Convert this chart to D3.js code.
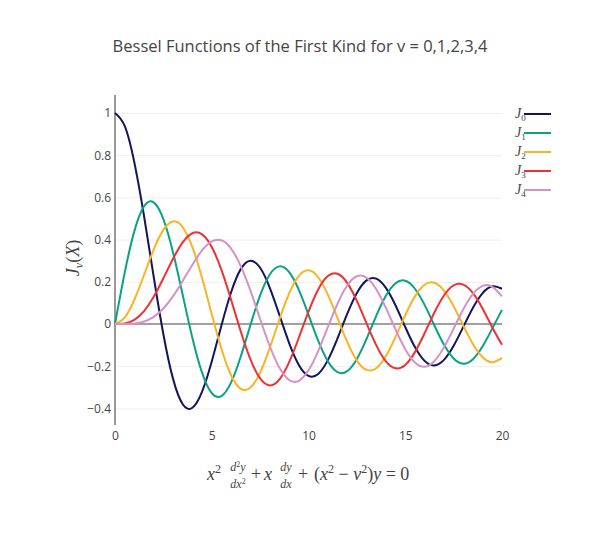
<!DOCTYPE html>
<html>
<head>
<meta charset="utf-8">
<script src="https://cdn.jsdelivr.net/npm/d3@7.9.0/dist/d3.min.js"></script>
<style>
  body { margin: 0; background: #fff; }
  svg { font-family: "Open Sans", sans-serif; }
  .math { font-family: "Liberation Serif", serif; }
</style>
</head>
<body>
<div id="chart"></div>
<script>
// x sample positions, every 0.5
const xValues = [0, 0.5, 1, 1.5, 2, 2.5, 3, 3.5, 4, 4.5, 5, 5.5, 6, 6.5, 7, 7.5, 8, 8.5, 9, 9.5,
    10, 10.5, 11, 11.5, 12, 12.5, 13, 13.5, 14, 14.5, 15, 15.5, 16, 16.5, 17, 17.5, 18, 18.5, 19, 19.5, 20];

const j0 = [1.0, 0.9385, 0.7652, 0.5118, 0.2239, -0.0484, -0.2601, -0.3801, -0.3971, -0.3205,
    -0.1776, -0.0068, 0.1506, 0.2601, 0.3001, 0.2663, 0.1717, 0.0419, -0.0903, -0.1939,
    -0.2459, -0.2366, -0.1712, -0.0677, 0.0477, 0.1469, 0.2069, 0.2151, 0.1711, 0.0876,
    -0.0142, -0.1093, -0.1749, -0.1964, -0.1699, -0.1031, -0.0134, 0.0773, 0.1466, 0.1789, 0.1670];
const j1 = [0, 0.2423, 0.4401, 0.5579, 0.5767, 0.4971, 0.3391, 0.1374, -0.0660, -0.2311,
    -0.3276, -0.3414, -0.2767, -0.1538, -0.0047, 0.1352, 0.2346, 0.2731, 0.2453, 0.1613,
    0.0435, -0.0789, -0.1768, -0.2282, -0.2234, -0.1654, -0.0703, 0.0380, 0.1334, 0.1933,
    0.2051, 0.1671, 0.0904, -0.0058, -0.0977, -0.1634, -0.1880, -0.1666, -0.1057, -0.0209, 0.0668];
const j2 = [0, 0.0306, 0.1150, 0.2321, 0.3528, 0.4461, 0.4861, 0.4586, 0.3641, 0.2178,
    0.0466, -0.1173, -0.2429, -0.3074, -0.3014, -0.2302, -0.1130, 0.0224, 0.1448, 0.2279,
    0.2546, 0.2216, 0.1390, 0.0280, -0.0849, -0.1734, -0.2177, -0.2095, -0.1520, -0.0609,
    0.0416, 0.1309, 0.1862, 0.1957, 0.1584, 0.0844, -0.0075, -0.0953, -0.1577, -0.1810, -0.1603];
const j3 = [0, 0.0026, 0.0196, 0.0610, 0.1289, 0.2167, 0.3091, 0.3867, 0.4302, 0.4247,
    0.3648, 0.2561, 0.1148, -0.0354, -0.1676, -0.2580, -0.2911, -0.2626, -0.1809, -0.0653,
    0.0584, 0.1633, 0.2274, 0.2379, 0.1951, 0.1099, 0.0033, -0.1001, -0.1768, -0.2101,
    -0.1940, -0.1333, -0.0438, 0.0532, 0.1350, 0.1827, 0.1863, 0.1460, 0.0725, -0.0162, -0.0989];
const j4 = [0, 0.0002, 0.0025, 0.0118, 0.0340, 0.0737, 0.1320, 0.2043, 0.2811, 0.3485,
    0.3912, 0.3967, 0.3576, 0.2747, 0.1578, 0.0238, -0.1054, -0.2078, -0.2655, -0.2691,
    -0.2196, -0.1283, -0.0150, 0.0961, 0.1825, 0.2262, 0.2193, 0.1650, 0.0762, -0.0260,
    -0.1192, -0.1825, -0.2026, -0.1764, -0.1108, -0.0218, 0.0696, 0.1427, 0.1806, 0.1760, 0.1307];

const seriesNames = ["0", "1", "2", "3", "4"];
const seriesColors = ["#15155e", "#07a384", "#fbb323", "#ee3134", "#d592c6"];
const xTicks = [0, 5, 10, 15, 20];
const yTicks = [-0.4, -0.2, 0, 0.2, 0.4, 0.6, 0.8, 1];

const width = 600;
const height = 550;
const plot = { left: 115, right: 502, top: 95, bottom: 425 };

const svg = d3.select("#chart")
    .append("svg")
    .attr("width", width)
    .attr("height", height);

// scales
const xScale = d3.scaleLinear().domain([0, 20]).range([plot.left, plot.right]);
const yScale = d3.scaleLinear().domain([-0.4787, 1.0853]).range([plot.bottom, plot.top]);

// gridlines
const grid = svg.append("g")
    .attr("transform", `translate(${plot.left},0)`)
    .call(d3.axisLeft(yScale).tickValues(yTicks.filter(d => d !== 0)).tickFormat("").tickSize(-(plot.right - plot.left)));
grid.select(".domain").remove();
grid.selectAll("line").attr("stroke", "#eee").attr("stroke-width", 1);

// zero line
svg.append("line")
    .attr("x1", plot.left).attr("x2", plot.right)
    .attr("y1", yScale(0)).attr("y2", yScale(0))
    .attr("stroke", "#444").attr("stroke-width", 1);

// y axis
const yAxis = svg.append("g")
    .attr("transform", `translate(${plot.left},0)`)
    .call(d3.axisLeft(yScale).tickValues(yTicks).tickSize(0).tickPadding(4)
        .tickFormat(d => d === 0 ? "0" : d3.format("")(d).replace("-", "\u2212")));
yAxis.select(".domain").remove();
yAxis.selectAll("text").attr("fill", "#444").style("font-size", "12px").style("font-family", "Open Sans");

svg.append("line")
    .attr("x1", plot.left).attr("x2", plot.left)
    .attr("y1", plot.top).attr("y2", plot.bottom)
    .attr("stroke", "#999").attr("stroke-width", 2);

// x axis
const xAxis = svg.append("g")
    .attr("transform", `translate(0,${plot.bottom})`)
    .call(d3.axisBottom(xScale).tickValues(xTicks).tickSize(0).tickPadding(6));
xAxis.select(".domain").remove();
xAxis.selectAll("text").attr("fill", "#444").style("font-size", "12px").style("font-family", "Open Sans");

// curves
const series = [j0, j1, j2, j3, j4];
const line = d3.line()
    .x((d, i) => xScale(xValues[i]))
    .y(d => yScale(d))
    .curve(d3.curveNatural);

svg.append("g").selectAll("path")
    .data(series)
    .join("path")
    .attr("fill", "none")
    .attr("stroke", (d, i) => seriesColors[i])
    .attr("stroke-width", 2)
    .attr("d", line);

// title
svg.append("text")
    .attr("x", 300).attr("y", 52)
    .attr("text-anchor", "middle")
    .attr("fill", "#444")
    .style("font-size", "16.5px")
    .text("Bessel Functions of the First Kind for v = 0,1,2,3,4");

// legend
const legend = svg.append("g").attr("class", "math");
seriesNames.forEach((name, i) => {
    const y = 114 + i * 19;
    legend.append("line")
        .attr("x1", 524).attr("x2", 551)
        .attr("y1", y).attr("y2", y)
        .attr("stroke", seriesColors[i]).attr("stroke-width", 2);
    const t = legend.append("text")
        .attr("x", 515).attr("y", y + 4)
        .attr("fill", "#444")
        .style("font-size", "14px")
        .style("font-style", "italic");
    t.append("tspan").text("J");
    t.append("tspan").attr("dy", 3).style("font-size", "9px").style("font-style", "normal").text(name);
});

// y axis title
const yTitle = svg.append("text")
    .attr("class", "math")
    .attr("transform", `translate(79,258) rotate(-90)`)
    .attr("text-anchor", "middle")
    .attr("fill", "#444")
    .style("font-size", "18px");
yTitle.append("tspan").style("font-style", "italic").text("J");
yTitle.append("tspan").attr("dy", 4).style("font-size", "12px").style("font-style", "italic").text("\u03bd");
yTitle.append("tspan").attr("dy", -4).text("(");
yTitle.append("tspan").style("font-style", "italic").text("X");
yTitle.append("tspan").text(")");

// x axis title: x^2 d2y/dx2 + x dy/dx + (x^2 - v^2)y = 0
const eq = svg.append("g").attr("class", "math").attr("fill", "#444");
const baseY = 480;
function mtext(x, y, size, parts) {
    const t = eq.append("text").attr("x", x).attr("y", y).style("font-size", size + "px");
    parts.forEach(p => {
        const s = t.append("tspan").text(p.t);
        if (p.i) s.style("font-style", "italic");
        if (p.dy) s.attr("dy", p.dy);
        if (p.s) s.style("font-size", p.s + "px");
    });
    return t;
}
function frac(cx, num, den) {
    mtext(cx, baseY - 9, 12, num).attr("text-anchor", "middle");
    mtext(cx, baseY + 8, 12, den).attr("text-anchor", "middle");
}
mtext(207, baseY, 18, [{ t: "x", i: true }, { t: "2", dy: -7, s: 12 }]);
frac(238, [{ t: "d", i: true }, { t: "2", dy: -4, s: 8 }, { t: "y", i: true, dy: 4 }],
    [{ t: "dx", i: true }, { t: "2", dy: -4, s: 8 }]);
mtext(251, baseY, 18, [{ t: "+" }]);
mtext(264, baseY, 18, [{ t: "x", i: true }]);
frac(286, [{ t: "dy", i: true }], [{ t: "dx", i: true }]);
mtext(298, baseY, 18, [{ t: "+" }]);
mtext(314, baseY, 18, [{ t: "(" }, { t: "x", i: true }, { t: "2", dy: -7, s: 12 }, { t: " \u2212 ", dy: 7 },
    { t: "\u03bd", i: true }, { t: "2", dy: -7, s: 12 }, { t: ")", dy: 7 }, { t: "y", i: true }, { t: " = 0" }]);
</script>
</body>
</html>
